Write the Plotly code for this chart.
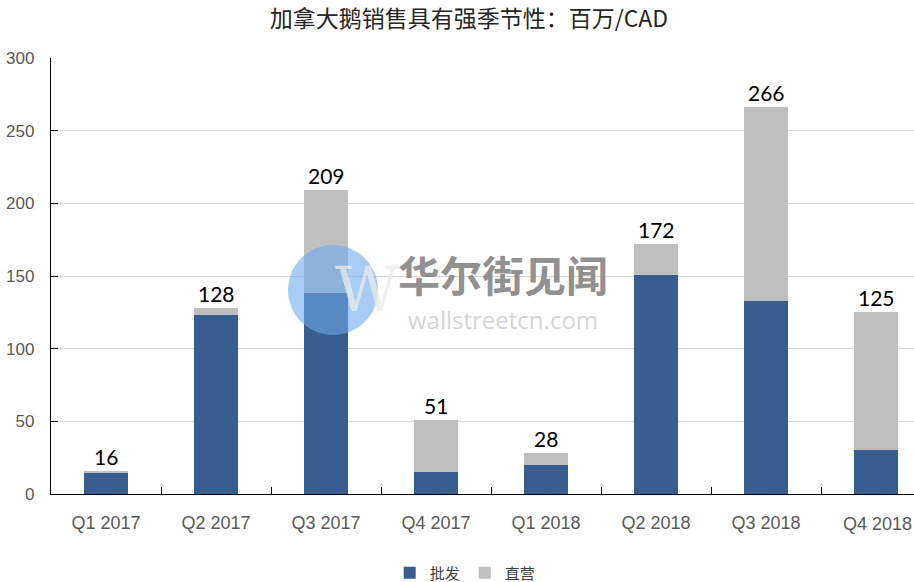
import plotly.graph_objects as go

categories = ["Q1 2017", "Q2 2017", "Q3 2017", "Q4 2017", "Q1 2018", "Q2 2018", "Q3 2018", "Q4 2018"]
wholesale = [15, 123, 138, 15, 20, 151, 133, 30]
dtc = [1, 5, 71, 36, 8, 21, 133, 95]
totals = [16, 128, 209, 51, 28, 172, 266, 125]
series_names = ["批发", "直营"]
title_text = "加拿大鹅销售具有强季节性：百万/CAD"

BLUE = "#375E8F"
GRAY = "#BFBFBF"
TICK_FONT = dict(family="Liberation Sans", size=18, color="#595959")

fig = go.Figure()
fig.add_trace(go.Bar(x=categories, y=wholesale, name=series_names[0],
                     marker=dict(color=BLUE, line=dict(width=0)), width=0.4))
fig.add_trace(go.Bar(x=categories, y=dtc, name=series_names[1],
                     marker=dict(color=GRAY, line=dict(width=0)), width=0.4))

for c, t in zip(categories, totals):
    fig.add_annotation(x=c, y=t, text=str(t), showarrow=False, yanchor="bottom",
                       yshift=0, font=dict(family="Lato", size=21, color="#000000"))

# last category label is pushed inward to fit at the right edge (as in the reference)
fig.add_annotation(xref="paper", yref="paper", x=1.0, y=0, xanchor="right", yanchor="top",
                   yshift=-18, text=categories[-1], showarrow=False, font=TICK_FONT)

# watermark
fig.add_shape(type="circle", xref="paper", yref="paper",
              x0=0.2746, x1=0.3789, y0=0.3647, y1=0.5711,
              fillcolor="rgba(110,170,235,0.6)", line=dict(width=0), layer="above")
fig.add_annotation(xref="paper", yref="paper", x=0.327, y=0.468, text="W", showarrow=False,
                   font=dict(family="DejaVu Serif", size=62, color="rgba(235,235,235,0.75)"))
fig.add_annotation(xref="paper", yref="paper", x=0.5232, y=0.505, text="<b>华尔街见闻</b>", showarrow=False,
                   font=dict(family="Noto Sans CJK SC", size=42, color="rgba(125,125,125,0.85)"))
fig.add_annotation(xref="paper", yref="paper", x=0.5232, y=0.40, text="wallstreetcn.com", showarrow=False,
                   font=dict(family="Open Sans", size=24, color="rgba(205,205,205,0.85)"))

fig.update_layout(
    barmode="stack",
    width=914, height=582,
    margin=dict(l=51, r=0, t=58, b=88, autoexpand=False),
    paper_bgcolor="white", plot_bgcolor="white",
    title=dict(text=title_text, x=0.513, xanchor="center", y=0.9682, yanchor="middle",
               font=dict(family="Noto Sans CJK SC", size=23, color="#262626")),
    legend=dict(orientation="h", x=0.48, xanchor="center", y=-0.181, yanchor="middle",
                font=dict(family="Noto Sans CJK SC", size=15, color="#404040"),
                itemwidth=30, traceorder="normal"),
    showlegend=True,
)
fig.update_xaxes(range=[-0.5, 7.345], showline=True, linecolor="#000000", linewidth=1.3,
                 ticks="inside", ticklen=7, tickcolor="#000000", tickson="boundaries",
                 tickmode="array", tickvals=categories[:-1], ticktext=categories[:-1],
                 showgrid=False, ticklabelstandoff=12, automargin=False,
                 tickfont=TICK_FONT)
fig.update_yaxes(range=[0, 300], dtick=50, showline=True, linecolor="#000000", linewidth=1.3,
                 ticks="inside", ticklen=7, tickcolor="#000000", automargin=False,
                 gridcolor="#D9D9D9", gridwidth=1, zeroline=False, ticklabelstandoff=12,
                 tickfont=dict(family="Liberation Sans", size=17, color="#595959"))

fig.write_html("out.html", config={"displayModeBar": False},
               post_script="document.body.style.margin='0';document.body.style.overflow='hidden';")
